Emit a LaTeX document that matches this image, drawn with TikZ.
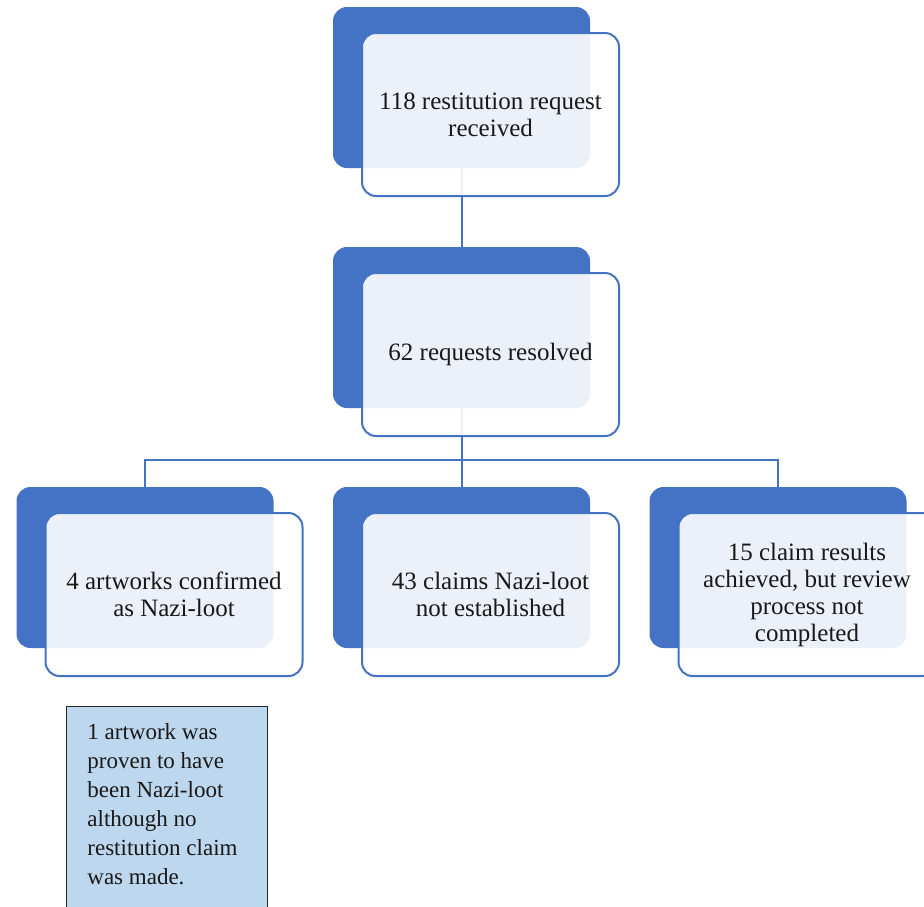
\documentclass[tikz,border=0pt]{standalone}
\usepackage{fontspec}
\setmainfont{Liberation Serif}
\usetikzlibrary{positioning, backgrounds}
\definecolor{accent}{HTML}{4472C4}
\definecolor{notefill}{HTML}{BDD7EE}

\begin{document}
\begin{tikzpicture}[x=1pt, y=-1pt,
    % boxes of the hierarchy (dark card behind, light card in front)
    backbox/.style={fill=accent, rounded corners=14pt, minimum width=257pt, minimum height=161pt, inner sep=0pt},
    frontbox/.style={draw=accent, line width=2pt, fill=white, fill opacity=0.9, text opacity=1, rounded corners=14pt, minimum width=257pt, minimum height=163pt, inner sep=2pt, align=center, text=black!90, font=\fontsize{25}{27}\selectfont},
    link/.style={draw=accent, line width=2pt},
    notebox/.style={draw=black!85, line width=0.8pt, fill=notefill, inner xsep=21pt, inner ysep=17pt, anchor=north west, text=black!90, font=\fontsize{23}{29}\selectfont},
    % Pic for one entry of the chart
    pics/orgbox/.style={code={
        \node[backbox] (-back) {};
        \node[frontbox] (-front) at (29,27) {#1};
    }}]

\clip (0,0) rectangle (924,906);

% Levels of the chart
\pic (req) at (461.5,87.5) {orgbox={118 restitution request\\received}};
\pic (res) at (461.5,327.5) {orgbox={62 requests resolved}};
\pic (loot) at (145,567.5) {orgbox={4 artworks confirmed\\as Nazi-loot}};
\pic (nol) at (461.5,567.5) {orgbox={43 claims Nazi-loot\\not established}};
\pic (open) at (778,567.5) {orgbox={15 claim results\\achieved, but review\\process not\\completed}};

% Connectors behind the cards
\begin{scope}[on background layer]
\coordinate (bus) at (461.5,460);
\draw[link] (req-back.south) -- (res-back.north);
\draw[link] (res-back.south) -- (nol-back.north);
\draw[link] (loot-back.north) |- (bus) -| (open-back.north);
\end{scope}

% Side note
\node[notebox] (note) at (66,706) {\parbox[t][215pt][t]{159pt}{\raggedright 1 artwork was\\proven to have\\been Nazi-loot\\although no\\restitution claim\\was made.}};

\end{tikzpicture}
\end{document}
